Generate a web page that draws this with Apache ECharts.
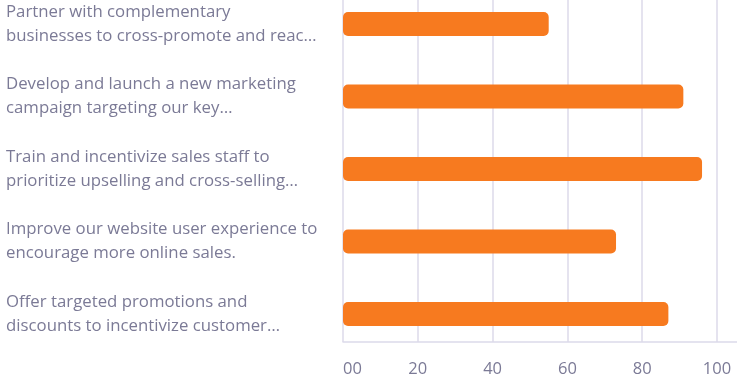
<!DOCTYPE html>
<html>
<head>
<meta charset="utf-8">
<script src="https://cdn.jsdelivr.net/npm/echarts@6/dist/echarts.min.js"></script>
<style>
html,body{margin:0;padding:0;background:#fff;}
#chart{width:737px;height:381px;}
</style>
</head>
<body>
<div id="chart"></div>
<script>
var categories = [
  "Partner with complementary\nbusinesses to cross-promote and reac\u2026",
  "Develop and launch a new marketing\ncampaign targeting our key\u2026",
  "Train and incentivize sales staff to\nprioritize upselling and cross-selling\u2026",
  "Improve our website user experience to\nencourage more online sales.",
  "Offer targeted promotions and\ndiscounts to incentivize customer\u2026"
];
var values = [55, 91, 96, 73, 87];
var tickLabels = ["00", "20", "40", "60", "80", "100"];

var FONT = "Open Sans";
var TEXT = "#7b7a96";
var GRID = "#dcdaea";

var chart = echarts.init(document.getElementById('chart'), null, {renderer: 'canvas'});
chart.setOption({
  animation: false,
  grid: [
    {left: 343, right: 20, top: -12.25, height: 362.5, containLabel: false, outerBoundsMode: 'none'},
    {left: 343, right: -3, top: -5, bottom: 39, containLabel: false, outerBoundsMode: 'none'}
  ],
  xAxis: [
    {gridIndex: 0, type: 'value', min: 0, max: 100, interval: 20, show: false},
    {gridIndex: 1, type: 'value', min: 0, max: 106.15, interval: 20,
     axisLine: {show: true, lineStyle: {color: GRID, width: 1.5}},
     axisTick: {show: false},
     splitLine: {show: true, lineStyle: {color: GRID, width: 1.5}},
     axisLabel: {
       color: TEXT, fontFamily: FONT, fontSize: 16.5, margin: 19,
       alignMinLabel: 'left', showMaxLabel: false,
       formatter: function (v) {
         var i = Math.round(v / 20);
         return (Math.abs(v - i * 20) < 1e-6 && i < tickLabels.length) ? tickLabels[i] : '';
       }
     }}
  ],
  yAxis: [
    {gridIndex: 0, type: 'category', inverse: true, data: categories,
     axisLine: {show: false}, axisTick: {show: false},
     axisLabel: {color: TEXT, fontFamily: FONT, fontSize: 16.8, lineHeight: 24,
       align: 'left', margin: 337}},
    {gridIndex: 1, type: 'value', show: false}
  ],
  series: [{
    type: 'bar', xAxisIndex: 0, yAxisIndex: 0, data: values,
    barWidth: 24,
    itemStyle: {color: '#f77a1f', borderRadius: 5}
  }]
});
</script>
</body>
</html>
